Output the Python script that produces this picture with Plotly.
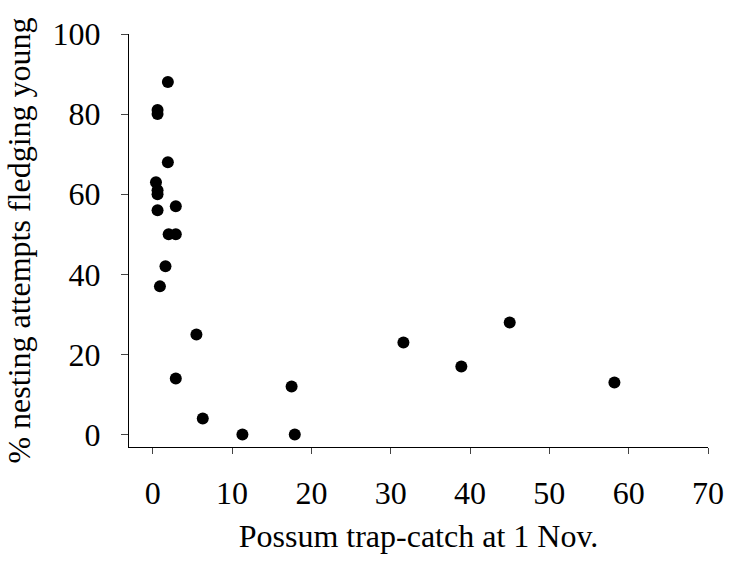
import plotly.graph_objects as go

# Possum trap-catch at 1 Nov. (x) vs % nesting attempts fledging young (y)
trap_catch = [1.9, 0.6, 0.6, 1.9, 0.4, 0.6, 0.6, 0.6, 2.9, 2.0, 2.9, 1.6, 0.9,
              5.5, 2.9, 6.3, 11.3, 17.5, 17.9, 31.6, 38.9, 45.0, 58.2]
pct_fledging = [88, 81, 80, 68, 63, 61, 60, 56, 57, 50, 50, 42, 37,
                25, 14, 4, 0, 12, 0, 23, 17, 28, 13]

x_ticks = [0, 10, 20, 30, 40, 50, 60, 70]
y_ticks = [0, 20, 40, 60, 80, 100]

FONT = "Liberation Serif, Times New Roman, serif"

fig = go.Figure(go.Scatter(
    x=trap_catch, y=pct_fledging, mode="markers",
    marker=dict(size=12, color="black", line=dict(width=0)),
    showlegend=False,
))

fig.update_layout(
    width=736, height=563,
    margin=dict(l=129, r=18, t=34, b=116),
    paper_bgcolor="white", plot_bgcolor="white",
    font=dict(family=FONT, size=32, color="black"),
    xaxis=dict(
        range=[-3, 70], tickvals=x_ticks, ticks="outside", ticklen=6,
        tickcolor="#444", showline=True, linecolor="black", linewidth=1,
        showgrid=False, zeroline=False, ticklabelstandoff=12,
        title=dict(text="Possum trap-catch at 1 Nov.", standoff=14,
                   font=dict(size=32)),
    ),
    yaxis=dict(
        range=[-3.1, 100], tickvals=y_ticks, ticks="outside", ticklen=7,
        tickcolor="#444", showline=True, linecolor="black", linewidth=1,
        showgrid=False, zeroline=False, ticklabelstandoff=14,
        title=dict(text="% nesting attempts fledging young", standoff=12,
                   font=dict(size=32)),
    ),
)

fig.write_html("out.html")
